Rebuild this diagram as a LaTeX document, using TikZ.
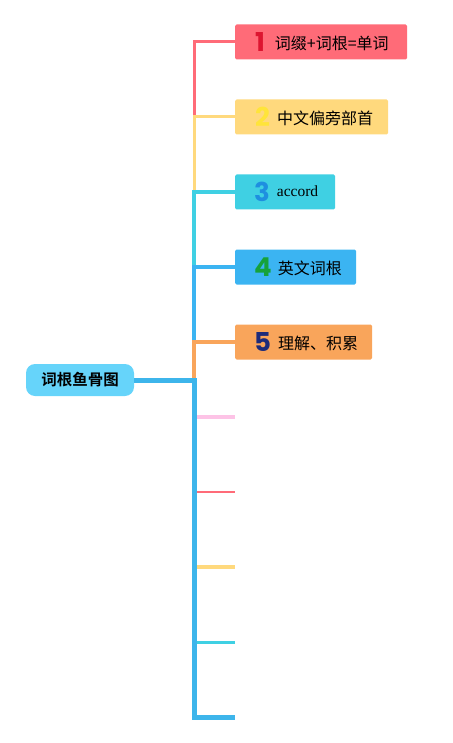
\documentclass[tikz,border=0pt]{standalone}
\usepackage{fontspec}
\setmainfont{Noto Sans CJK SC}[BoldFont={Noto Sans CJK SC Bold}]
\newfontfamily\numfont{Poppins}[BoldFont={Poppins Bold}]
\newfontfamily\latinfont{Liberation Serif}
\usepackage{tikz}
\usetikzlibrary{positioning,calc}
\definecolor{rootblue}{HTML}{66D4FA}
\definecolor{trunk}{HTML}{3DB5EB}
\definecolor{redbox}{HTML}{FF6B78}
\definecolor{rednum}{HTML}{DD1530}
\definecolor{yelbox}{HTML}{FFD97D}
\definecolor{yelnum}{HTML}{FFE43A}
\definecolor{cyanbox}{HTML}{3FD0E3}
\definecolor{cyannum}{HTML}{1E8FE0}
\definecolor{bluebox}{HTML}{3BB4F2}
\definecolor{bluenum}{HTML}{16A23A}
\definecolor{orgbox}{HTML}{F9A55B}
\definecolor{orgnum}{HTML}{1E2B7A}
\definecolor{pinkline}{HTML}{FDC3E6}
\begin{document}
\begin{tikzpicture}[
  x=1pt, y=-1pt,
  font=\fontsize{16}{18}\selectfont,
  rootbox/.style={fill=rootblue, rounded corners=9pt, minimum width=108pt, minimum height=32pt, inner sep=0pt, font=\fontsize{15.5}{17}\selectfont\bfseries},
  stepbox/.style={rounded corners=1.5pt, anchor=west, minimum height=35pt, inner xsep=0pt, inner ysep=0pt, align=left},
  branch/.style={line width=#1, line cap=butt, line join=miter}
]
  \useasboundingbox (0,0) rectangle (452,743);

  % root
  \node[rootbox] (root) at (80,380) {词根鱼骨图};
  \coordinate (fork) at (194,380);

  % ROW: named topics
  \node[stepbox, fill=redbox, text width=172pt] (b1) at (235,42)
    {\hspace*{20pt}\raisebox{-2pt}{\numfont\bfseries\fontsize{26}{26}\selectfont\color{rednum}1}\hspace{10pt}词缀+词根=单词};
  \node[stepbox, fill=yelbox, text width=153pt] (b2) at (235,117)
    {\hspace*{20pt}\raisebox{-2pt}{\numfont\bfseries\fontsize{26}{26}\selectfont\color{yelnum}2}\hspace{7pt}中文偏旁部首};
  \node[stepbox, fill=cyanbox, text width=100pt] (b3) at (235,192)
    {\hspace*{19pt}\raisebox{-2pt}{\numfont\bfseries\fontsize{26}{26}\selectfont\color{cyannum}3}\hspace{7pt}\raisebox{3pt}{\latinfont\fontsize{15.5}{16}\selectfont accord}};
  \node[stepbox, fill=bluebox, text width=121pt] (b4) at (235,267)
    {\hspace*{19pt}\raisebox{-2pt}{\numfont\bfseries\fontsize{26}{26}\selectfont\color{bluenum}4}\hspace{6pt}英文词根};
  \node[stepbox, fill=orgbox, text width=137pt] (b5) at (235,342)
    {\hspace*{19pt}\raisebox{-2pt}{\numfont\bfseries\fontsize{26}{26}\selectfont\color{orgnum}5}\hspace{7pt}理解、积累};

  % empty branch ends
  \coordinate (s6) at (235,417);
  \coordinate (s7) at (235,492);
  \coordinate (s8) at (235,567);
  \coordinate (s9) at (235,642);
  \coordinate (s10) at (235,717);

  % upper branches (later ones cover earlier ones)
  \draw[branch=3pt, redbox] (fork) |- (b1.west);
  \draw[branch=3pt, yelbox] (fork) |- (b2.west);
  \draw[branch=4pt, cyanbox] (fork) |- (b3.west);
  \draw[branch=4pt, bluebox] (fork) |- (b4.west);
  \draw[branch=4pt, orgbox] (fork) |- (b5.west);

  % lower branches
  \draw[branch=4pt, pinkline] (fork) |- (s6);
  \draw[branch=2pt, redbox] (fork) |- (s7);
  \draw[branch=4pt, yelbox] (fork) |- (s8);
  \draw[branch=3pt, cyanbox] (fork) |- (s9);
  \draw[branch=5pt, trunk] (fork) |- (s10);

  % root connector
  \draw[branch=5pt, trunk] (root.east) -- ([xshift=2.5pt]fork);
\end{tikzpicture}
\end{document}
